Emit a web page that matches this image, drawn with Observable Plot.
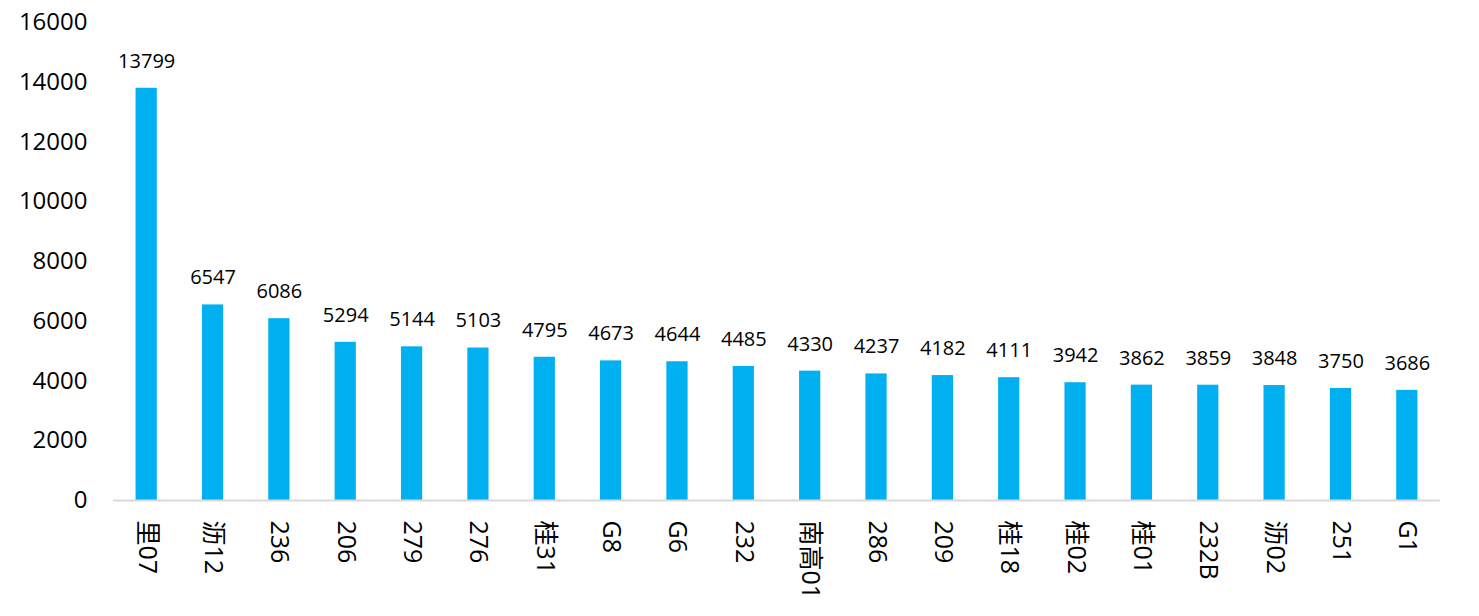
<!DOCTYPE html>
<html><head><meta charset="utf-8">
<script src="https://cdn.jsdelivr.net/npm/d3@7"></script>
<script src="https://cdn.jsdelivr.net/npm/@observablehq/plot@0.6"></script>
<style>
body{margin:0;background:#fff;}
svg{font-family:"Open Sans","Noto Sans CJK SC",sans-serif;}
</style></head>
<body><div id="chart"></div>
<script>
const categories = ["里07","沥12","236","206","279","276","桂31","G8","G6","232","南高01","286","209","桂18","桂02","桂01","232B","沥02","251","G1"];
const values = [13799,6547,6086,5294,5144,5103,4795,4673,4644,4485,4330,4237,4182,4111,3942,3862,3859,3848,3750,3686];
const yTicks = [0,2000,4000,6000,8000,10000,12000,14000,16000];

const data = categories.map((c,i)=>({cat:c, value:values[i]}));

const chart = Plot.plot({
  width:1479, height:616,
  marginLeft:113, marginRight:39, marginTop:22, marginBottom:116,
  x:{domain:categories, paddingInner:0.68, paddingOuter:0.34, round:false, label:null},
  y:{domain:[0,16000], label:null},
  marks:[
    Plot.barY(data,{x:"cat", y:"value", fill:"#00B0F0"}),
    Plot.ruleY([0],{stroke:"#D9D9D9", strokeWidth:2}),
    Plot.text(data,{x:"cat", y:"value", text:d=>String(d.value), dy:-27, fontSize:20, fill:"#000"}),
    Plot.axisY({ticks:yTicks, tickSize:0, tickPadding:26, fontSize:24, label:null, tickFormat:d=>String(d), color:"#000"}),
    Plot.axisX({tickSize:0, tickPadding:20, tickRotate:90, fontSize:25, label:null, color:"#000"})
  ]
});
document.getElementById("chart").appendChild(chart);
</script></body></html>
